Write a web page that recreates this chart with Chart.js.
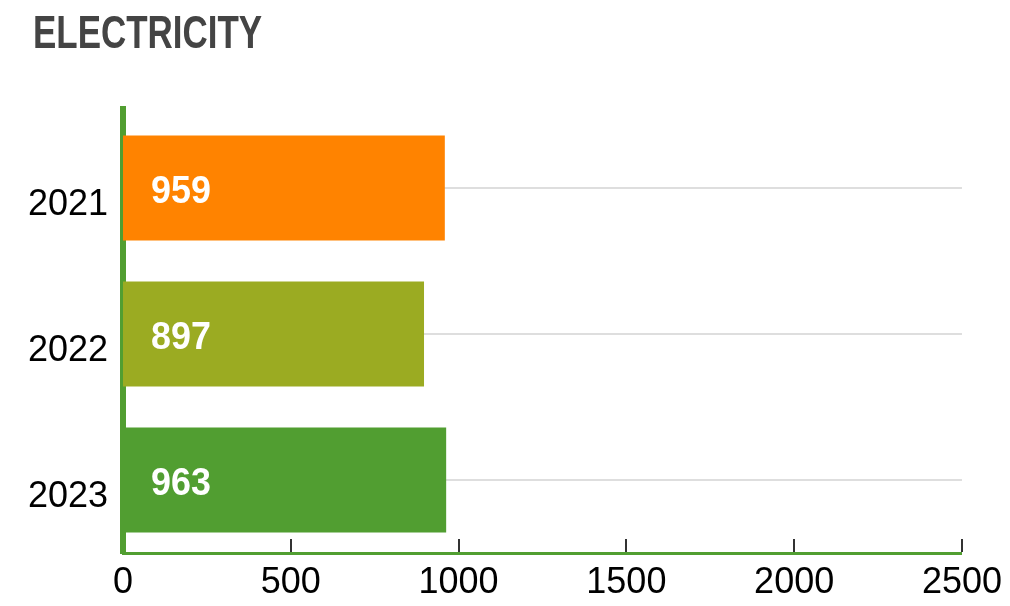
<!DOCTYPE html>
<html>
<head>
<meta charset="utf-8">
<script src="https://cdn.jsdelivr.net/npm/chart.js@4.4.1/dist/chart.umd.min.js"></script>
<style>
  html, body { margin: 0; padding: 0; background: #fff; }
  #wrap { width: 1010px; height: 606px; }
</style>
</head>
<body>
<div id="wrap"><canvas id="myChart" width="1010" height="606"></canvas></div>
<script>
// Dados do gráfico
const years = ['2021', '2022', '2023'];
const consumo = [959, 897, 963];
const xTicks = [0, 500, 1000, 1500, 2000, 2500];
const barColors = ['#FF8300', '#9BAB22', '#519E31'];
const titulo = 'ELECTRICITY';

const verde = '#519E31';
const fonte = "'Liberation Sans', Arial, sans-serif";

// título condensado no topo
const tituloCondensado = {
    id: 'tituloCondensado',
    afterDraw(chart) {
        const ctx = chart.ctx;
        ctx.save();
        ctx.fillStyle = '#444';
        ctx.font = 'bold 46px ' + fonte;
        ctx.textAlign = 'left';
        ctx.textBaseline = 'alphabetic';
        ctx.translate(33, 48);
        ctx.scale(0.76, 1);
        ctx.fillText(titulo, 0, 0);
        ctx.restore();
    }
};

// valores em branco dentro das barras
const valorNaBarra = {
    id: 'valorNaBarra',
    afterDatasetsDraw(chart) {
        const ctx = chart.ctx;
        const meta = chart.getDatasetMeta(0);
        ctx.save();
        ctx.fillStyle = '#fff';
        ctx.font = 'bold 39px ' + fonte;
        ctx.textAlign = 'left';
        ctx.textBaseline = 'alphabetic';
        meta.data.forEach((bar, i) => {
            ctx.save();
            ctx.translate(bar.base + 28, bar.y + 15);
            ctx.scale(0.92, 1);
            ctx.fillText(String(consumo[i]), 0, 0);
            ctx.restore();
        });
        ctx.restore();
    }
};

// tracinhos do eixo x para cima e eixo y um pouco acima da área
const eixos = {
    id: 'eixos',
    afterDraw(chart) {
        const ctx = chart.ctx;
        const area = chart.chartArea;
        const x = chart.scales.x;
        ctx.save();
        ctx.strokeStyle = '#333';
        ctx.lineWidth = 2;
        xTicks.forEach(v => {
            if (v === 0) return;
            const px = Math.round(x.getPixelForValue(v));
            ctx.beginPath();
            ctx.moveTo(px, area.bottom - 1);
            ctx.lineTo(px, area.bottom - 14);
            ctx.stroke();
        });
        ctx.fillStyle = verde;
        ctx.fillRect(area.left - 3, area.top - 9, 6, 12);
        ctx.restore();
    }
};

const ctx = document.getElementById('myChart').getContext('2d');
const myChart = new Chart(ctx, {
    type: 'bar',
    data: {
        labels: years,
        datasets: [{
            data: consumo,
            backgroundColor: barColors,
            borderWidth: 0,
            barPercentage: 0.9,
            categoryPercentage: 0.8
        }]
    },
    options: {
        indexAxis: 'y',
        responsive: false,
        animation: false,
        layout: { padding: { left: 0, right: 47, top: 115, bottom: 0 } },
        plugins: {
            legend: { display: false },
            tooltip: { enabled: false },
            title: { display: false }
        },
        scales: {
            x: {
                min: 0,
                max: 2500,
                afterBuildTicks(scale) {
                    scale.ticks = xTicks.map(v => ({ value: v }));
                },
                afterFit(scale) { scale.height = 53; },
                grid: { display: false, drawTicks: false },
                border: { display: true, color: verde, width: 3 },
                ticks: {
                    color: '#000',
                    padding: 8,
                    maxRotation: 0,
                    font: { family: fonte, size: 36 },
                    callback: v => String(v)
                }
            },
            y: {
                afterFit(scale) { scale.width = 123; },
                grid: {
                    offset: false,
                    color: '#dedede',
                    lineWidth: 2,
                    drawTicks: false
                },
                border: { display: true, color: verde, width: 6 },
                ticks: {
                    color: '#000',
                    padding: 15,
                    labelOffset: 17,
                    font: { family: fonte, size: 36 }
                }
            }
        }
    },
    plugins: [valorNaBarra, eixos, tituloCondensado]
});
</script>
</body>
</html>
